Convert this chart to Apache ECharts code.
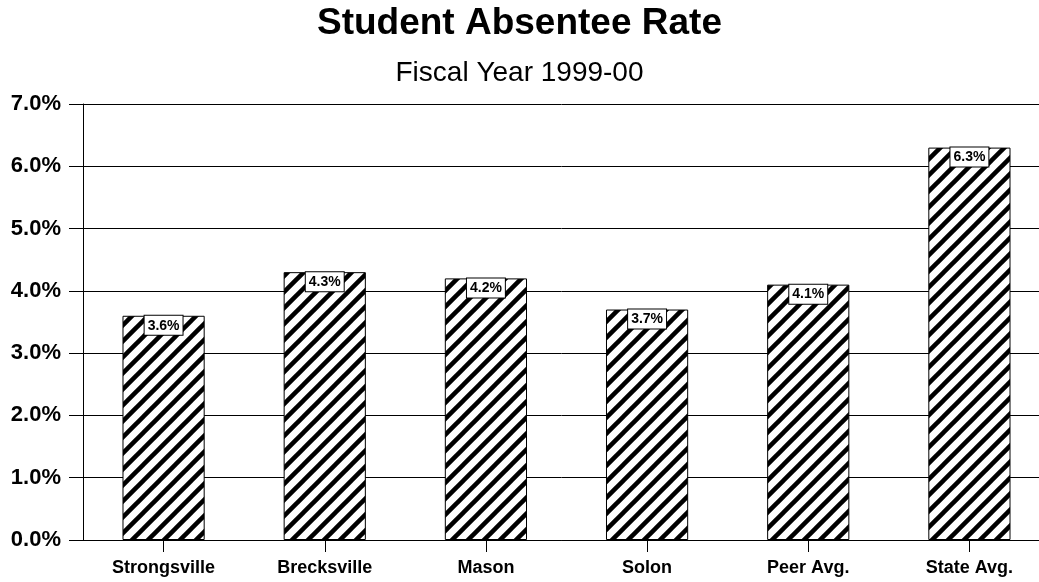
<!DOCTYPE html>
<html>
<head>
<meta charset="utf-8">
<script src="https://cdn.jsdelivr.net/npm/echarts@6/dist/echarts.min.js"></script>
<style>
html,body{margin:0;padding:0;background:#fff;}
#chart{width:1039px;height:582px;}
</style>
</head>
<body>
<div id="chart"></div>
<script>
const categories = ['Strongsville', 'Brecksville', 'Mason', 'Solon', 'Peer Avg.', 'State Avg.'];
const absenteeRates = [3.6, 4.3, 4.2, 3.7, 4.1, 6.3];
const titleText = 'Student Absentee Rate';
const subtitleText = 'Fiscal Year 1999-00';

function hatch() {
  const s = 16;
  const c = document.createElement('canvas');
  c.width = s; c.height = s;
  const g = c.getContext('2d');
  g.fillStyle = '#fff';
  g.fillRect(0, 0, s, s);
  g.strokeStyle = '#000';
  g.lineWidth = 4.5;
  g.lineCap = 'square';
  const segs = [[-4, s + 4, s + 4, -4], [-4, 4, 4, -4], [s - 4, s + 4, s + 4, s - 4]];
  segs.forEach(function (p) {
    g.beginPath(); g.moveTo(p[0], p[1]); g.lineTo(p[2], p[3]); g.stroke();
  });
  return c;
}

const chart = echarts.init(document.getElementById('chart'));
const font = 'Arial, "Liberation Sans", Helvetica, sans-serif';
chart.setOption({
  animation: false,
  backgroundColor: '#fff',
  title: [
    { text: titleText, left: 'center', top: 5, padding: 0,
      textStyle: { fontFamily: font, fontSize: 37, fontWeight: 'bold', color: '#000' } },
    { text: subtitleText, left: 'center', top: 59, padding: 0,
      textStyle: { fontFamily: font, fontSize: 28, fontWeight: 'normal', color: '#000' } }
  ],
  grid: { left: 83, top: 104, bottom: 42, width: 967, containLabel: false, outerBoundsMode: 'none' },
  xAxis: {
    type: 'category',
    data: categories,
    axisLine: { lineStyle: { color: '#000', width: 1 } },
    axisTick: { show: true, alignWithLabel: true, length: 12, lineStyle: { color: '#000' } },
    axisLabel: { margin: 19, fontFamily: font, fontSize: 18, fontWeight: 'bold', color: '#000' }
  },
  yAxis: {
    type: 'value',
    min: 0, max: 7, interval: 1,
    axisLine: { show: true, lineStyle: { color: '#000', width: 1 } },
    axisTick: { show: true, length: 14, lineStyle: { color: '#000' } },
    splitLine: { show: true, lineStyle: { color: '#000', width: 1 } },
    axisLabel: { margin: 22, fontFamily: font, fontSize: 22, fontWeight: 'bold', color: '#000',
      formatter: function (v) { return v.toFixed(1) + '%'; } }
  },
  series: [{
    type: 'bar',
    data: absenteeRates,
    barCategoryGap: '49%',
    itemStyle: { color: { image: hatch(), repeat: 'repeat' }, borderColor: '#000', borderWidth: 1 },
    label: {
      show: true, position: 'insideTop', distance: 0,
      formatter: function (p) { return p.value.toFixed(1) + '%'; },
      fontFamily: font, fontSize: 14, fontWeight: 'bold', color: '#000',
      backgroundColor: '#fff', borderColor: '#000', borderWidth: 1, padding: [3, 3, 2, 3]
    }
  }]
});
</script>
</body>
</html>
